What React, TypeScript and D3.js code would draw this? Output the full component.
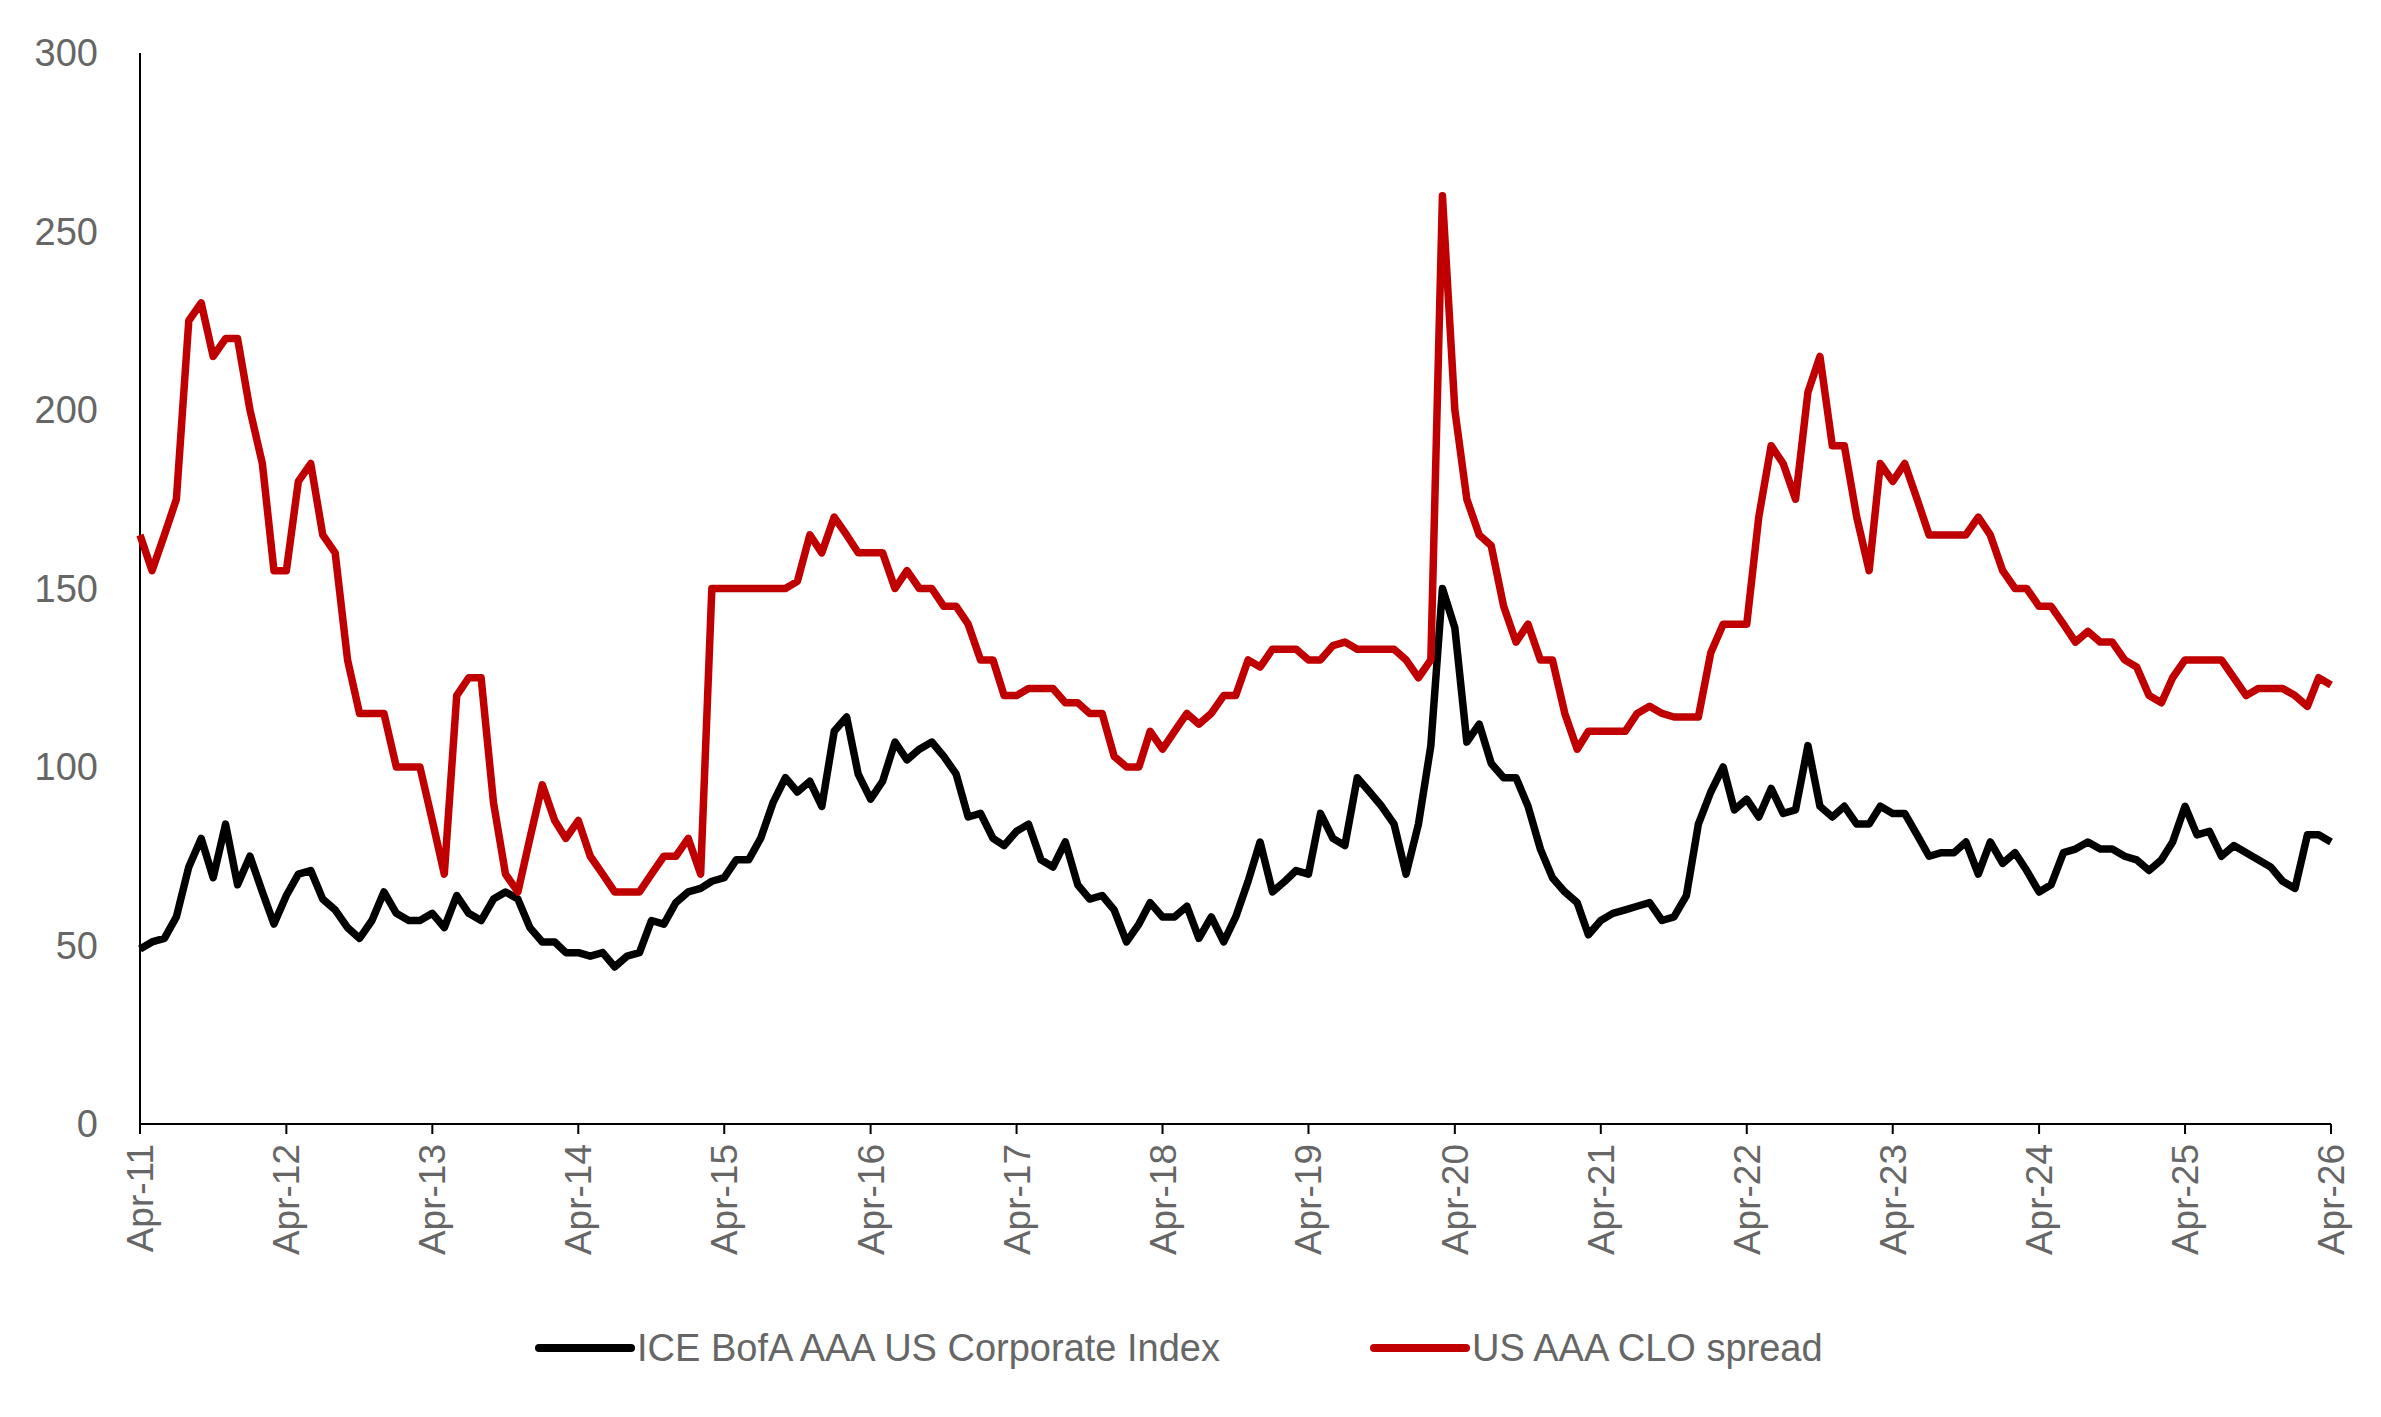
import React from "react";
import * as d3 from "d3";

const corpIndex = [49,51,52,58,72,80,69,84,67,75,65,56,64,70,71,63,60,55,52,57,65,59,57,57,59,55,64,59,57,63,65,63,55,51,51,48,48,47,48,44,47,48,57,56,62,65,66,68,69,74,74,80,90,97,93,96,89,110,114,98,91,96,107,102,105,107,103,98,86,87,80,78,82,84,74,72,79,67,63,64,60,51,56,62,58,58,61,52,58,51,58,68,79,65,68,71,70,87,80,78,97,93,89,84,70,84,106,150,139,107,112,101,97,97,89,77,69,65,62,53,57,59,60,61,62,57,58,64,84,93,100,88,91,86,94,87,88,106,89,86,89,84,84,89,87,87,81,75,76,76,79,70,79,73,76,71,65,67,76,77,79,77,77,75,74,71,74,79,89,81,82,75,78,76,74,72,68,66,81,81,79];
const cloSpread = [165,155,165,175,225,230,215,220,220,200,185,155,155,180,185,165,160,130,115,115,115,100,100,100,85,70,120,125,125,90,70,65,80,95,85,80,85,75,70,65,65,65,70,75,75,80,70,150,150,150,150,150,150,150,152,165,160,170,165,160,160,160,150,155,150,150,145,145,140,130,130,120,120,122,122,122,118,118,115,115,103,100,100,110,105,110,115,112,115,120,120,130,128,133,133,133,130,130,134,135,133,133,133,133,130,125,130,260,200,175,165,162,145,135,140,130,130,115,105,110,110,110,110,115,117,115,114,114,114,132,140,140,140,170,190,185,175,205,215,190,190,170,155,185,180,185,175,165,165,165,165,170,165,155,150,150,145,145,140,135,138,135,135,130,128,120,118,125,130,130,130,130,125,120,122,122,122,120,117,125,123];
const yTicks = [0, 50, 100, 150, 200, 250, 300];
const tickYears = d3.range(2011, 2027);
const seriesNames = ["ICE BofA AAA US Corporate Index", "US AAA CLO spread"];
const seriesColors = ["#000000", "#c00000"];

const W = 2381, H = 1417;
const m = { left: 140, top: 53, right: 2331, bottom: 1124 };
const font = "'Liberation Sans', Arial, sans-serif";

export default function App() {
  const x = d3.scaleTime().domain([new Date(2011, 3, 1), new Date(2026, 3, 1)]).range([m.left, m.right]);
  const y = d3.scaleLinear().domain([0, 300]).range([m.bottom, m.top]);
  const dateOf = (i: number) => new Date(2011, 3 + i, 1);
  const line = d3.line<number>().x((_, i) => x(dateOf(i))).y((v) => y(v)).curve(d3.curveLinear);
  const fmt = d3.timeFormat("%b-%y");
  return (
    <svg width={W} height={H} style={{ position: "absolute", left: 0, top: 0, background: "#fff" }}>
      <line x1={m.left} x2={m.left} y1={m.top} y2={m.bottom} stroke="#000" strokeWidth={2} />
      <line x1={m.left} x2={m.right} y1={m.bottom} y2={m.bottom} stroke="#000" strokeWidth={2} />
      {yTicks.map((t) => (
        <text key={t} x={98} y={y(t)} dy="0.35em" textAnchor="end" fontFamily={font} fontSize={38} fill="#666">{t}</text>
      ))}
      {tickYears.map((yr) => {
        const d = new Date(yr, 3, 1);
        const xx = x(d);
        return (
          <g key={yr}>
            <line x1={xx} x2={xx} y1={m.bottom} y2={m.bottom + 10} stroke="#000" strokeWidth={2} />
            <text transform={`translate(${xx + 13},${m.bottom + 20}) rotate(-90)`} textAnchor="end" fontFamily={font} fontSize={37} fill="#666">{fmt(d)}</text>
          </g>
        );
      })}
      <path d={line(corpIndex) || ""} fill="none" stroke={seriesColors[0]} strokeWidth={7.5} strokeLinejoin="round" />
      <path d={line(cloSpread) || ""} fill="none" stroke={seriesColors[1]} strokeWidth={7.5} strokeLinejoin="round" />
      {seriesNames.map((n, i) => {
        const lx = i === 0 ? 539 : 1374;
        return (
          <g key={n}>
            <line x1={lx} x2={lx + 92} y1={1348} y2={1348} stroke={seriesColors[i]} strokeWidth={8} strokeLinecap="round" />
            <text x={lx + 98} y={1348} dy="0.35em" fontFamily={font} fontSize={38} fill="#666">{n}</text>
          </g>
        );
      })}
    </svg>
  );
}
